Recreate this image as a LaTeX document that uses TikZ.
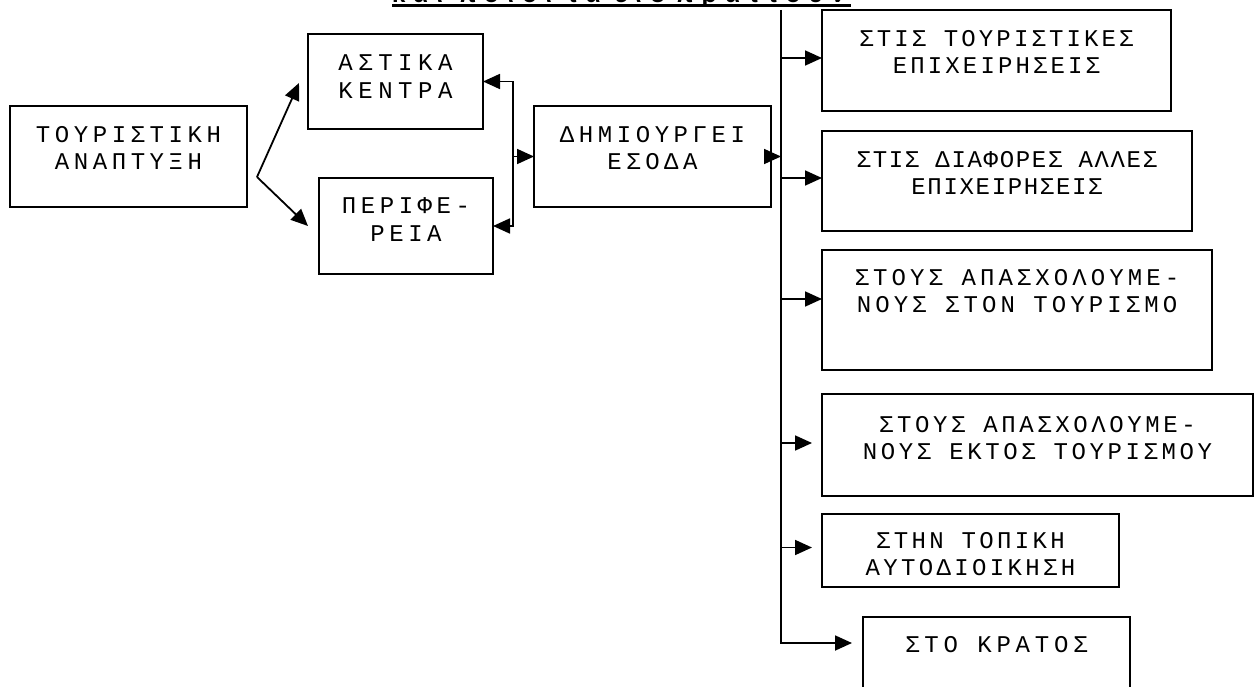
\documentclass[tikz,border=0pt]{standalone}
\usepackage{fontspec}
\usetikzlibrary{arrows.meta,calc}
\newfontfamily\monofam{Liberation Mono}
\newfontfamily\titlefam{Liberation Sans}[LetterSpace=35]
\newcommand\mf[1]{\monofam\fontsize{24}{27.5}\selectfont\addfontfeature{LetterSpace=#1}}
\tikzset{
  boxnode/.style={draw, line width=1.9pt, rectangle, inner sep=0pt, outer sep=0pt, anchor=north west},
  lbl/.style={inner sep=0pt, outer sep=0pt, anchor=north, align=center},
  arr/.style={line width=1.8pt, -{Triangle[length=17pt 0,width=15pt 0]}}
}
\begin{document}
\begin{tikzpicture}[x=1pt,y=-1pt]
\useasboundingbox (0,0) rectangle (1255,687);
% title (clipped at top)
\node[inner sep=0pt, anchor=base west, font=\titlefam\bfseries\fontsize{24}{28}\selectfont] (title) at (392,3) {και ποιοι τα εισπράττουν};
\draw[line width=3pt] (392,5.5) -- (851,5.5);
% boxes
\node[boxnode, minimum width=237pt, minimum height=101pt] (tour) at (10,106) {};
\node[boxnode, minimum width=175pt, minimum height=95pt] (ast) at (308,34) {};
\node[boxnode, minimum width=174pt, minimum height=96pt] (per) at (319,178) {};
\node[boxnode, minimum width=237pt, minimum height=101pt] (dim) at (534,106) {};
\node[boxnode, minimum width=349pt, minimum height=101pt] (A) at (822,10) {};
\node[boxnode, minimum width=370pt, minimum height=100pt] (B) at (822,131) {};
\node[boxnode, minimum width=390pt, minimum height=120pt] (C) at (822,250) {};
\node[boxnode, minimum width=431pt, minimum height=102pt] (D) at (822,394) {};
\node[boxnode, minimum width=297pt, minimum height=73pt] (E) at (822,514) {};
\node[boxnode, minimum width=267pt, minimum height=110pt] (F) at (863,617) {};
% labels
\node[lbl, font=\mf{19}] (tourT) at ($(tour.north)+(0,20)$) {ΤΟΥΡΙΣΤΙΚΗ\\ΑΝΑΠΤΥΞΗ};
\node[lbl, font=\mf{23}] (astT) at ($(ast.north)+(0,21)$) {ΑΣΤΙΚΑ\\ΚΕΝΤΡΑ};
\node[lbl, font=\mf{19}] (perT) at ($(per.north)+(0,20)$) {ΠΕΡΙΦΕ-\\ΡΕΙΑ};
\node[lbl, font=\mf{19}] (dimT) at ($(dim.north)+(0,20)$) {ΔΗΜΙΟΥΡΓΕΙ\\ΕΣΟΔΑ};
\node[lbl, font=\mf{13}] (AT) at ($(A.north)+(0,20)$) {ΣΤΙΣ ΤΟΥΡΙΣΤΙΚΕΣ\\ΕΠΙΧΕΙΡΗΣΕΙΣ};
\node[lbl, font=\mf{7}] (BT) at ($(B.north)+(0,20)$) {ΣΤΙΣ ΔΙΑΦΟΡΕΣ ΑΛΛΕΣ\\ΕΠΙΧΕΙΡΗΣΕΙΣ};
\node[lbl, font=\mf{17}] (CT) at ($(C.north)+(0,19)$) {ΣΤΟΥΣ ΑΠΑΣΧΟΛΟΥΜΕ-\\ΝΟΥΣ ΣΤΟΝ ΤΟΥΡΙΣΜΟ};
\node[lbl, font=\mf{15}] (DT) at ($(D.north)+(0,22)$) {ΣΤΟΥΣ ΑΠΑΣΧΟΛΟΥΜΕ-\\ΝΟΥΣ ΕΚΤΟΣ ΤΟΥΡΙΣΜΟΥ};
\node[lbl, font=\mf{14}] (ET) at ($(E.north)+(0,18)$) {ΣΤΗΝ ΤΟΠΙΚΗ\\ΑΥΤΟΔΙΟΙΚΗΣΗ};
\node[lbl, font=\mf{20}] (FT) at ($(F.north)+(0,19)$) {ΣΤΟ ΚΡΑΤΟΣ};
% left connectors
\coordinate (v) at (257,177);
\coordinate (t2) at (299,83);
\coordinate (t3) at (308,226);
\draw[arr] (v) -- (t2);
\draw[arr] (v) -- (t3);
\coordinate (j) at (513,156.5);
\draw[arr] (j) |- (ast.east);
\draw[arr] (j) |- (per.east);
\draw[arr] (j) -- (dim.west);
% bus
\coordinate (bt) at (781,10);
\coordinate (fa) at (852,643);
\draw[arr] (bt) |- (fa);
\draw[arr] (dim.east) -- (dim.east -| bt);
\coordinate (yA) at (0,58);
\coordinate (yB) at (0,178);
\coordinate (yC) at (0,299);
\draw[arr] (bt |- yA) -- (A.west |- yA);
\draw[arr] (bt |- yB) -- (B.west |- yB);
\draw[arr] (bt |- yC) -- (C.west |- yC);
\coordinate (dD) at ($(D.west)+(-10,-2)$);
\coordinate (dE) at ($(E.west)+(-10,-3)$);
\draw[arr] (bt |- dD) -- (dD);
\draw[arr] (bt |- dE) -- (dE);
\end{tikzpicture}
\end{document}
